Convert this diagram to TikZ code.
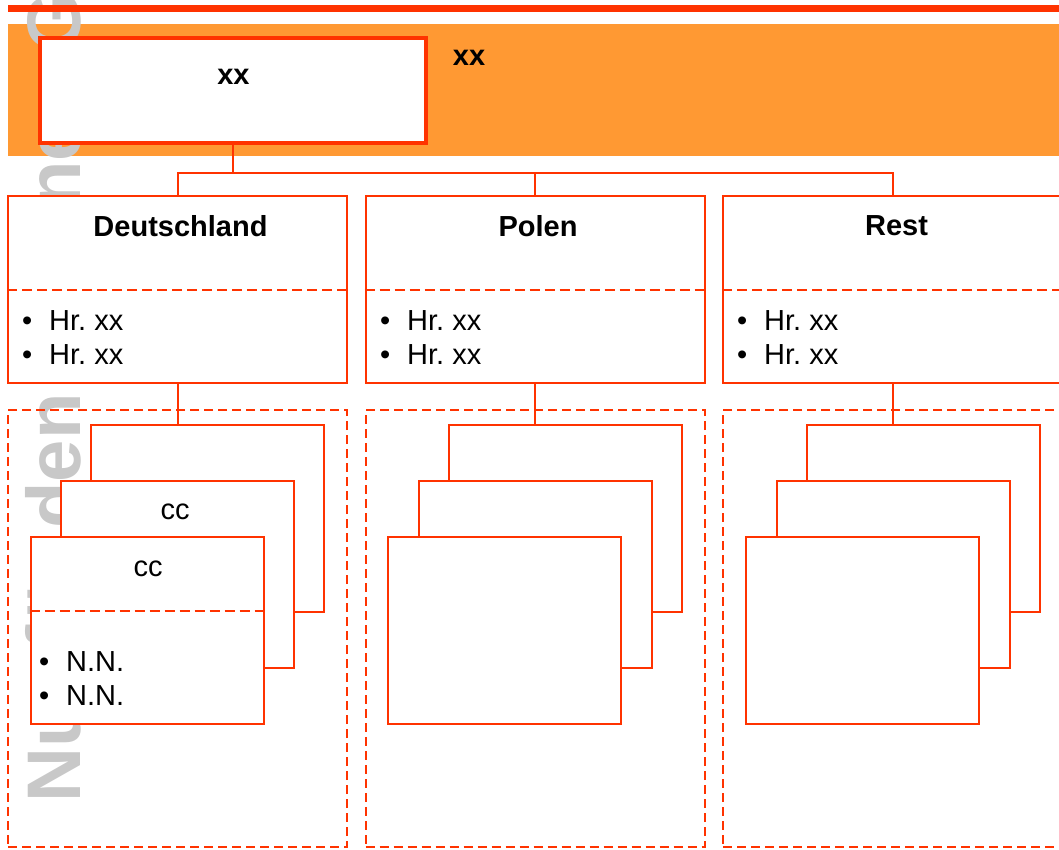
\documentclass[tikz,border=0pt]{standalone}
\usepackage{fontspec}
\setmainfont{Liberation Sans}
\definecolor{redA}{HTML}{FF3300}
\definecolor{orangeA}{HTML}{FF9933}
\definecolor{wmgray}{HTML}{C8C8C8}
\frenchspacing
\begin{document}
\begin{tikzpicture}[x=1pt,y=-1pt,
  every node/.style={font=\fontsize{29}{34}\selectfont},
  box/.style={draw=redA, line width=2pt, fill=white, inner sep=0pt, minimum width=339pt, minimum height=187pt},
  card/.style={draw=redA, line width=2pt, fill=white, inner sep=0pt, minimum width=233pt, minimum height=187pt},
  cont/.style={draw=redA, line width=2pt, dash pattern=on 9pt off 5pt, inner sep=0pt, minimum width=339pt, minimum height=437pt},
  divline/.style={draw=redA, line width=2pt, dash pattern=on 10pt off 5pt},
  conn/.style={draw=redA, line width=2pt},
  title/.style={font=\fontsize{29}{34}\selectfont\bfseries, inner sep=0pt},
  plain/.style={inner sep=0pt},
  list/.style={anchor=west, align=left, inner sep=0pt}]
\clip (0,0) rectangle (1059,850);
% background band
\fill[orangeA] (8,24) rectangle (1059,156);
% watermark
\node[text=wmgray, font=\fontsize{76}{80}\selectfont\bfseries, rotate=90, anchor=base west, inner sep=0pt] (wm) at (80,803) {Nur für den internen Gebrauch};
\fill[redA] (8,5) rectangle (1059,12);
% top box
\node[draw=redA, line width=4pt, fill=white, minimum width=386pt, minimum height=105pt, inner sep=0pt] (top) at (233,90.5) {};
\node[title] (toptxt) at (233.5,77) {xx};
\node[title] (sidetxt) at (469,58) {xx};
% country boxes
\node[box] (d) at (177.5,289.5) {};
\node[box] (p) at (535,289.5) {};
\node[box] (r) at (892.5,289.5) {};
\foreach \b in {d,p,r}{
  \draw[divline] (\b.west |- 0,290) -- (\b.east |- 0,290);
}
\node[title] (dt) at (180.5,226) {Deutschland};
\node[title] (pt) at (538,226) {Polen};
\node[title] (rt) at (896.5,226) {Rest};
\node[list] (dl) at (22,338) {\makebox[27pt][l]{•}Hr. xx\\\makebox[27pt][l]{•}Hr. xx};
\node[list] (pl) at (380,338) {\makebox[27pt][l]{•}Hr. xx\\\makebox[27pt][l]{•}Hr. xx};
\node[list] (rl) at (737,338) {\makebox[27pt][l]{•}Hr. xx\\\makebox[27pt][l]{•}Hr. xx};
% connectors from top
\coordinate (bus) at (0,173);
\draw[conn] (top.south) -- (top.south |- bus);
\draw[conn] (d.north) -- (d.north |- bus) -- (r.north |- bus) -- (r.north);
\draw[conn] (p.north) -- (p.north |- bus);
% containers
\node[cont] (dc) at (177.5,628.5) {};
\node[cont] (pc) at (535,628.5) {};
\node[cont] (rc) at (892.5,628.5) {};
% cards
\node[card] (d3) at (207.5,518.5) {};
\node[card] (d2) at (177.5,574.5) {};
\node[card] (d1) at (147,630) {};
\node[card] (p3) at (565.5,518.5) {};
\node[card] (p2) at (535.5,574.5) {};
\node[card] (p1) at (504.5,630) {};
\node[card] (r3) at (923,518.5) {};
\node[card] (r2) at (893,574.5) {};
\node[card] (r1) at (862.5,630) {};
% connectors to cards
\draw[conn] (d.south) -- (d.south |- d3.north);
\draw[conn] (p.south) -- (p.south |- p3.north);
\draw[conn] (r.south) -- (r.south |- r3.north);
% card texts
\node[plain] (d2t) at (175,512) {cc};
\node[plain] (d1t) at (148,569) {cc};
\draw[divline] (d1.west |- 0,611) -- (d1.east |- 0,611);
\node[list] (d1l) at (39,679) {\makebox[27pt][l]{•}N.N.\\\makebox[27pt][l]{•}N.N.};
\end{tikzpicture}
\end{document}
